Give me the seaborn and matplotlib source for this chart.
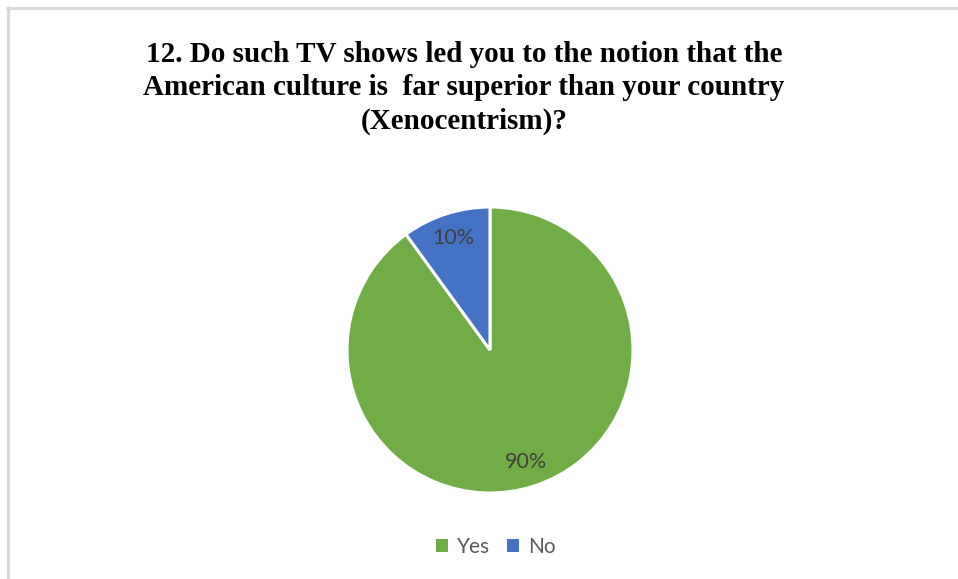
import matplotlib
matplotlib.use("Agg")
import matplotlib.pyplot as plt
import seaborn as sns
from matplotlib.lines import Line2D
from matplotlib.patches import Patch

# Survey responses
categories = ["Yes", "No"]
shares = [90, 10]
colors = ["#70AD47", "#4472C4"]
title = ("12. Do such TV shows led you to the notion that the\n"
         "American culture is  far superior than your country\n"
         "(Xenocentrism)?")

sns.set_theme(style="white")
plt.rcParams["font.family"] = ["Lato", "DejaVu Sans"]

W, H = 958, 579
fig = plt.figure(figsize=(W / 100, H / 100), dpi=100)
fig.patch.set_facecolor("white")

# Chart frame (top and left edges visible)
frame_kw = dict(color="#d9d9d9", lw=2.2, transform=fig.transFigure)
fig.add_artist(Line2D([7 / W, 1.0], [1 - 8 / H, 1 - 8 / H], **frame_kw))
fig.add_artist(Line2D([8 / W, 8 / W], [0.0, 1 - 7 / H], **frame_kw))

cx, cy, r = 490, 350, 143
ax = fig.add_axes([(cx - r) / W, (H - cy - r) / H, 2 * r / W, 2 * r / H])
wedges, _, autotexts = ax.pie(
    shares, colors=colors, startangle=90, counterclock=False,
    autopct=lambda p: f"{p:.0f}%", pctdistance=0.82,
    wedgeprops=dict(edgecolor="white", linewidth=2.2),
    textprops=dict(color="#404040", fontsize=15.5),
)
ax.set_xlim(-1, 1)
ax.set_ylim(-1, 1)
ax.set_aspect("equal")
ax.axis("off")

fig.text(464 / W, 1 - 88 / H, title, ha="center", va="center",
         fontsize=21, fontweight="bold", family=["Liberation Serif"],
         color="black", linespacing=1.3)

handles = [Patch(facecolor=c, edgecolor="none") for c in colors]
fig.legend(handles, categories, loc="center", bbox_to_anchor=(496 / W, 1 - 547 / H),
           ncol=2, frameon=False, fontsize=15, handlelength=0.55, handleheight=0.55,
           handletextpad=0.45, columnspacing=0.8, labelcolor="#595959")

fig.savefig("out.png", dpi=100)
